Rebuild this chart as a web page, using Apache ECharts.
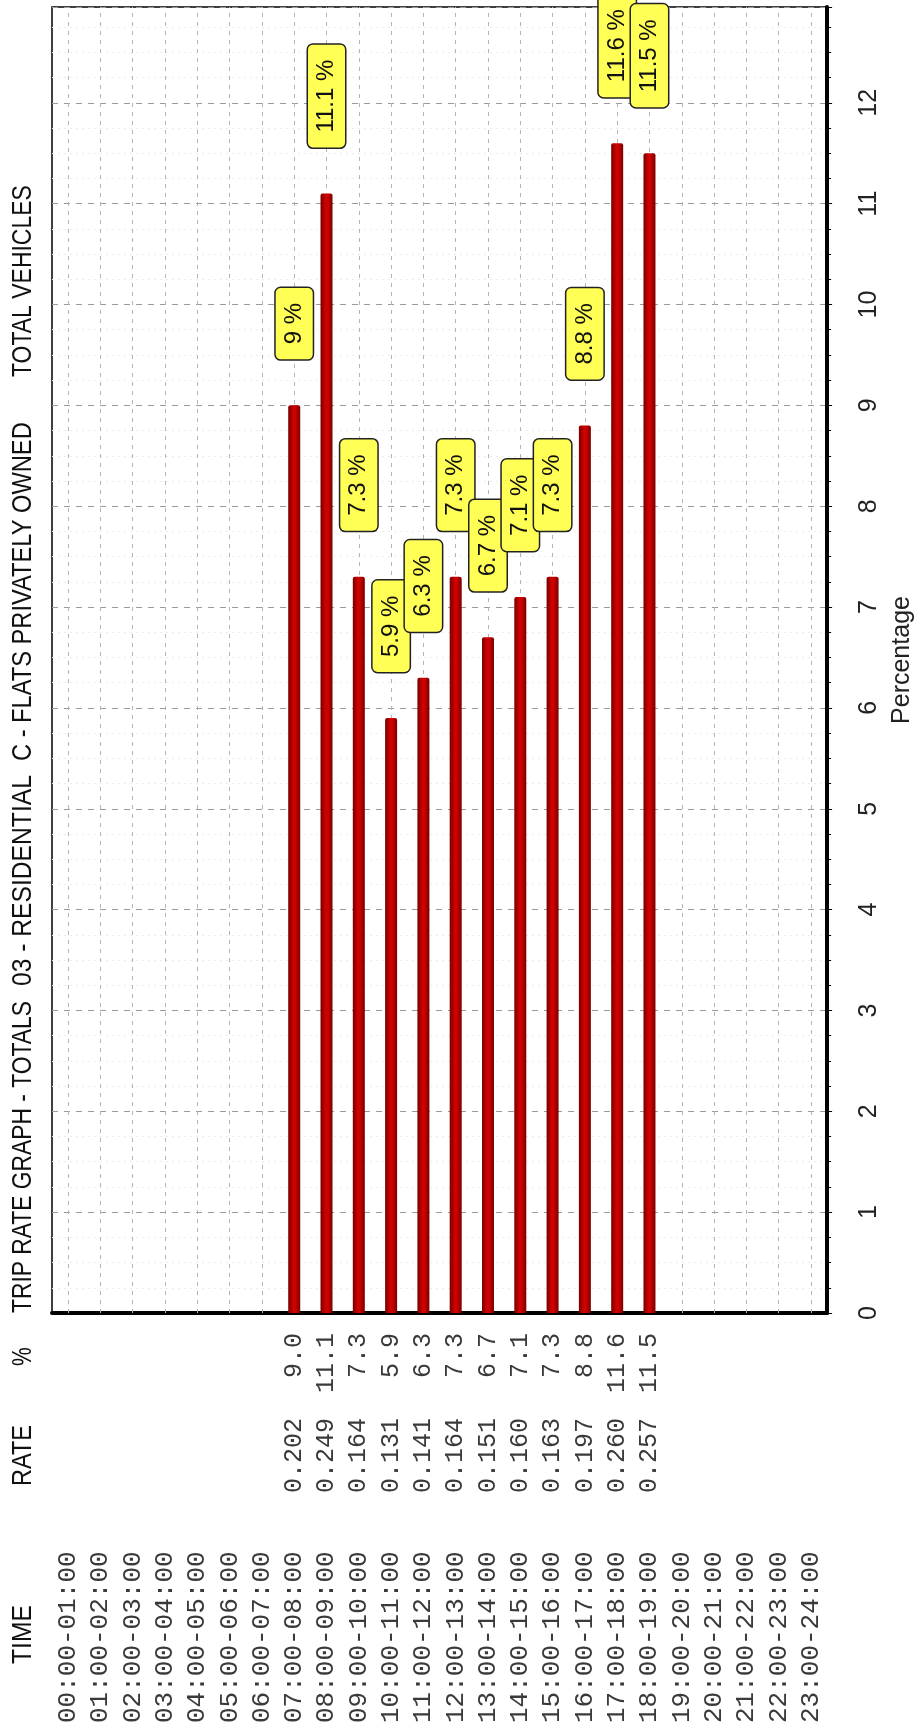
<!DOCTYPE html>
<html>
<head>
<meta charset="utf-8">
<script src="https://cdn.jsdelivr.net/npm/echarts@6/dist/echarts.min.js"></script>
<style>
html,body{margin:0;padding:0;background:#fff;}
#chart{width:923px;height:1736px;}
</style>
</head>
<body>
<div id="chart"></div>
<script>
const times = ['00:00-01:00','01:00-02:00','02:00-03:00','03:00-04:00','04:00-05:00','05:00-06:00',
  '06:00-07:00','07:00-08:00','08:00-09:00','09:00-10:00','10:00-11:00','11:00-12:00',
  '12:00-13:00','13:00-14:00','14:00-15:00','15:00-16:00','16:00-17:00','17:00-18:00',
  '18:00-19:00','19:00-20:00','20:00-21:00','21:00-22:00','22:00-23:00','23:00-24:00'];
const rates = [null,null,null,null,null,null,null,
  0.202,0.249,0.164,0.131,0.141,0.164,0.151,0.160,0.163,0.197,0.260,0.257,
  null,null,null,null,null];
const percents = [null,null,null,null,null,null,null,
  9.0,11.1,7.3,5.9,6.3,7.3,6.7,7.1,7.3,8.8,11.6,11.5,
  null,null,null,null,null];
const titleParts = ['TRIP RATE GRAPH - TOTALS','03 - RESIDENTIAL','C - FLATS PRIVATELY OWNED','TOTAL VEHICLES'];
const headers = ['TIME','RATE','%'];
const axisName = 'Percentage';

const SANS = "'Liberation Sans',Arial,sans-serif";
const MONO = "'Liberation Mono','DejaVu Sans Mono',monospace";

const chart = echarts.init(document.getElementById('chart'), null, {renderer:'canvas'});

// rotated header / title text, squeezed along the text direction to mimic a narrow face
function headerText(txt, y, sx){
  return {type:'text', x:23, y:y, rotation:Math.PI/2, scaleX:sx, scaleY:1,
    style:{text:txt, fill:'#111', font:'28px '+SANS, textAlign:'left', textVerticalAlign:'middle'}};
}

const option = {
  backgroundColor:'#fff',
  animation:false,
  grid:{left:52, right:80, top:7, bottom:423, show:true, borderColor:'#000', borderWidth:1.5, backgroundColor:'transparent'},
  xAxis:{
    type:'category', data:times, boundaryGap:true,
    axisLine:{show:true, lineStyle:{color:'#000', width:4}},
    axisTick:{show:false},
    splitLine:{show:false},
    axisLabel:{
      interval:0, rotate:90, margin:20,
      formatter:function(v, i){
        const r = rates[i] == null ? '' : rates[i].toFixed(3);
        const p = percents[i] == null ? '' : percents[i].toFixed(1);
        return '{t|'+v+'}{r|'+r+'}{p|'+p+'}';
      },
      rich:{
        t:{width:230, align:'left', fontFamily:MONO, fontSize:26, color:'#3a3a3a'},
        r:{width:75, align:'left', fontFamily:MONO, fontSize:25, color:'#3a3a3a'},
        p:{width:85, align:'right', fontFamily:MONO, fontSize:25, color:'#3a3a3a'}
      }
    }
  },
  yAxis:{
    type:'value', position:'right', min:0, max:12.95, interval:1,
    name:axisName, nameLocation:'middle', nameRotate:90, nameGap:53,
    nameTextStyle:{fontFamily:SANS, fontSize:25, color:'#222'},
    axisLine:{show:true, lineStyle:{color:'#000', width:4}},
    axisTick:{show:true, length:5, lineStyle:{color:'#000'}},
    minorTick:{show:true, splitNumber:4, length:4, lineStyle:{color:'#000'}},
    axisLabel:{rotate:90, margin:30, fontFamily:SANS, fontSize:25, color:'#222', showMaxLabel:false},
    splitLine:{show:true, lineStyle:{color:'#9a9a9a', type:[6,6], width:1}},
    minorSplitLine:{show:true, lineStyle:{color:'#ececec', type:[2,4], width:1}}
  },
  graphic:[
    headerText(headers[0], 1664, 0.88),
    headerText(headers[1], 1486, 0.84),
    headerText(headers[2], 1366, 0.75),
    headerText(titleParts[0], 1313, 0.815),
    headerText(titleParts[1], 986, 0.88),
    headerText(titleParts[2], 761, 0.845),
    headerText(titleParts[3], 377, 0.82)
  ],
  series:[
    {
      type:'line', data:times.map(function(){return null;}), showSymbol:false, silent:true, z:1,
      lineStyle:{opacity:0},
      markLine:{
        silent:true, symbol:'none', z:1, animation:false,
        label:{show:false},
        lineStyle:{color:'#b4b4b4', type:[4,5], width:1},
        data:times.map(function(t){return {xAxis:t};})
      }
    },
    {
      type:'bar', data:percents, barWidth:12, z:3,
      itemStyle:{
        borderRadius:[2,2,0,0],
        color:new echarts.graphic.LinearGradient(0,0,1,0,[
          {offset:0,color:'#760000'},
          {offset:0.45,color:'#d40000'},
          {offset:0.6,color:'#cc0000'},
          {offset:1,color:'#7a0000'}
        ])
      },
      label:{
        show:true, position:'top', distance:46, rotate:90, align:'left', verticalAlign:'middle',
        formatter:function(p){ return p.value + ' %'; },
        fontFamily:SANS, fontSize:24, color:'#111', lineHeight:27,
        backgroundColor:'#ffff55', borderColor:'#222', borderWidth:1.5, borderRadius:5,
        padding:[5,15,5,15]
      }
    }
  ]
};
chart.setOption(option);
</script>
</body>
</html>
